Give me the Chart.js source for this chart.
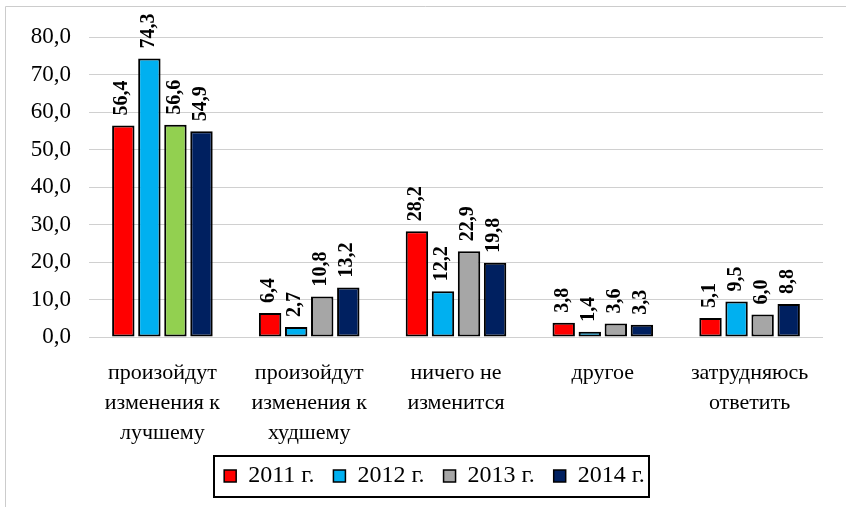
<!DOCTYPE html>
<html>
<head>
<meta charset="utf-8">
<script src="https://cdn.jsdelivr.net/npm/chart.js@4.4.1/dist/chart.umd.min.js"></script>
<style>
  html, body { margin: 0; padding: 0; background: #fff; }
  #wrap { position: relative; width: 846px; height: 507px; }
</style>
</head>
<body>
<div id="wrap"><canvas id="c" width="846" height="507"></canvas></div>
<script>
const categories = [
  ['произойдут', 'изменения к', 'лучшему'],
  ['произойдут', 'изменения к', 'худшему'],
  ['ничего не', 'изменится'],
  ['другое'],
  ['затрудняюсь', 'ответить']
];
const seriesNames = ['2011 г.', '2012 г.', '2013 г.', '2014 г.'];
const values2011 = [56.4, 6.4, 28.2, 3.8, 5.1];
const values2012 = [74.3, 2.7, 12.2, 1.4, 9.5];
const values2013 = [56.6, 10.8, 22.9, 3.6, 6.0];
const values2014 = [54.9, 13.2, 19.8, 3.3, 8.8];
const yTicks = [0, 10, 20, 30, 40, 50, 60, 70, 80];

const FONT = "'Liberation Serif', 'Times New Roman', serif";
const fmt = v => v.toFixed(1).replace('.', ',');

const colors2013 = ['#92D050', '#A6A6A6', '#A6A6A6', '#A6A6A6', '#A6A6A6'];
const legendColors = ['#FF0000', '#00B0F0', '#A6A6A6', '#002060'];
const LEGEND_SHIFT = 23;

const frame = {
  id: 'frame',
  afterLayout(chart) {
    const lg = chart.legend;
    if (lg) {
      lg.left += LEGEND_SHIFT; lg.right += LEGEND_SHIFT;
      (lg.legendHitBoxes || []).forEach(h => { h.left += LEGEND_SHIFT; });
    }
  },
  beforeDraw(chart) {
    const ctx = chart.ctx;
    ctx.save();
    ctx.strokeStyle = '#cccccc';
    ctx.lineWidth = 1;
    ctx.beginPath();
    ctx.moveTo(5.5, 507);
    ctx.lineTo(5.5, 6.5);
    ctx.lineTo(846, 6.5);
    ctx.stroke();
    ctx.restore();
  },
  afterDraw(chart) {
    const boxes = chart.legend.legendHitBoxes;
    if (!boxes || !boxes.length) return;
    let l = Infinity, r = -Infinity, t = Infinity, b = -Infinity;
    boxes.forEach(h => {
      l = Math.min(l, h.left); r = Math.max(r, h.left + h.width);
      t = Math.min(t, h.top); b = Math.max(b, h.top + h.height);
    });
    const cy = (t + b) / 2;
    const ctx = chart.ctx;
    ctx.save();
    ctx.strokeStyle = '#000';
    ctx.lineWidth = 2;
    ctx.strokeRect(Math.round(l - 10), Math.round(cy - 20), Math.round(r - l + 14), 41);
    ctx.restore();
  }
};

const labelsPlugin = {
  id: 'vlabels',
  afterDatasetsDraw(chart) {
    const ctx = chart.ctx;
    ctx.save();
    ctx.font = "bold 20px " + FONT;
    ctx.fillStyle = '#000';
    ctx.textAlign = 'left';
    ctx.textBaseline = 'middle';
    chart.data.datasets.forEach((ds, di) => {
      const meta = chart.getDatasetMeta(di);
      meta.data.forEach((el, i) => {
        ctx.save();
        ctx.translate(el.x - 1, el.y - 10);
        ctx.rotate(-Math.PI / 2);
        ctx.fillText(fmt(ds.data[i]), 0, 0);
        ctx.restore();
      });
    });
    ctx.restore();
  }
};

new Chart(document.getElementById('c'), {
  type: 'bar',
  data: {
    labels: categories,
    datasets: [
      { label: seriesNames[0], data: values2011, backgroundColor: '#FF0000' },
      { label: seriesNames[1], data: values2012, backgroundColor: '#00B0F0' },
      { label: seriesNames[2], data: values2013, backgroundColor: colors2013 },
      { label: seriesNames[3], data: values2014, backgroundColor: '#002060' }
    ].map(d => Object.assign(d, { borderColor: '#000', borderWidth: 2, borderSkipped: false, categoryPercentage: 0.71, barPercentage: 0.86 }))
  },
  options: {
    responsive: false,
    animation: false,
    layout: { padding: { left: 0, right: 23, top: 37, bottom: 9 } },
    plugins: {
      tooltip: { enabled: false },
      legend: {
        position: 'bottom',
        labels: {
          font: { family: FONT, size: 24 },
          color: '#000',
          boxWidth: 12,
          boxHeight: 12,
          padding: 19,
          generateLabels(chart) {
            const items = Chart.defaults.plugins.legend.labels.generateLabels(chart);
            items.forEach((it, i) => { it.fillStyle = legendColors[i]; it.strokeStyle = '#000'; it.lineWidth = 1.5; });
            return items;
          }
        }
      }
    },
    scales: {
      x: {
        grid: { display: false, drawTicks: false },
        border: { display: false },
        ticks: { font: { family: FONT, size: 22, lineHeight: 1.36 }, color: '#000', padding: 21, maxRotation: 0, autoSkip: false },
        afterFit(s) { s.height = 108; }
      },
      y: {
        min: 0, max: 80,
        afterBuildTicks(s) { s.ticks = yTicks.map(v => ({ value: v })); },
        grid: { color: '#d0d0d0', lineWidth: 1, drawTicks: false },
        border: { display: false },
        ticks: { font: { family: FONT, size: 23 }, color: '#000', padding: 18, callback: v => fmt(v) },
        afterFit(s) { s.width = 89; }
      }
    }
  },
  plugins: [frame, labelsPlugin]
});
</script>
</body>
</html>
